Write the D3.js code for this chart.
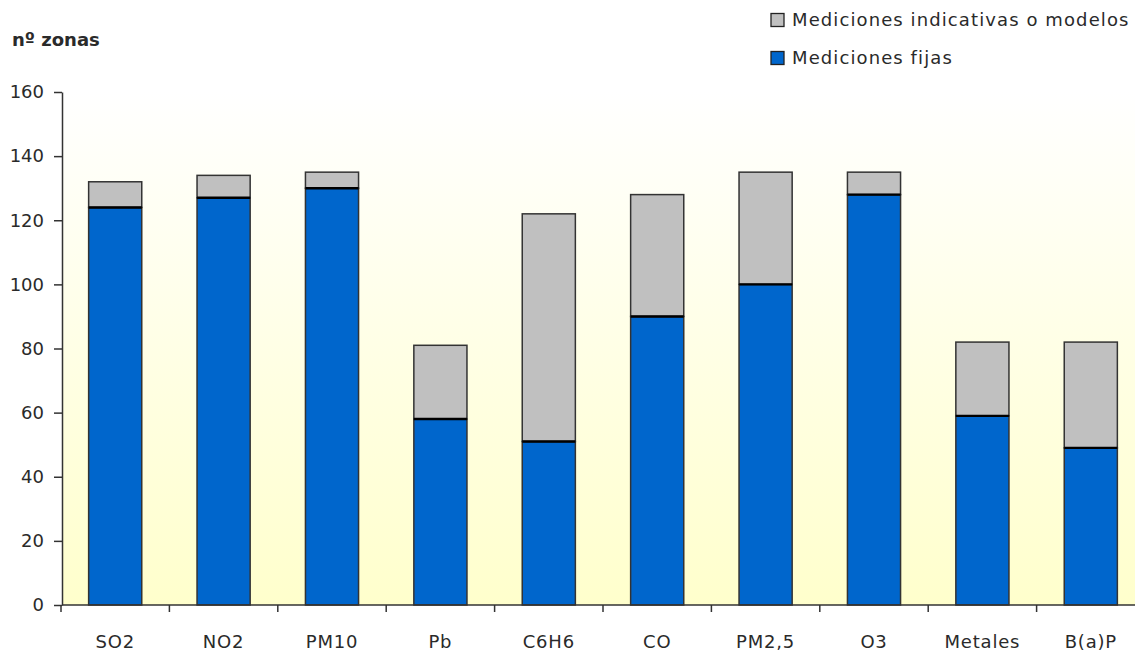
<!DOCTYPE html>
<html>
<head>
<meta charset="utf-8">
<script src="https://cdn.jsdelivr.net/npm/d3@7"></script>
<style>
  html, body { margin: 0; padding: 0; background: #ffffff; }
  svg { display: block; }
  text { font-family: "DejaVu Sans", Verdana, sans-serif; fill: #2a2a2a; }
</style>
</head>
<body>
<svg id="chart" width="1135" height="655"></svg>
<script>
const categories = ["SO2", "NO2", "PM10", "Pb", "C6H6", "CO", "PM2,5", "O3", "Metales", "B(a)P"];
const fijas = [124, 127, 130, 58, 51, 90, 100, 128, 59, 49];
const indicativas = [8, 7, 5, 23, 71, 38, 35, 7, 23, 33];
const yTicks = [0, 20, 40, 60, 80, 100, 120, 140, 160];
const seriesNames = ["Mediciones indicativas o modelos", "Mediciones fijas"];

const svg = d3.select("#chart");
const mLeft = 62, mRight = 1145, mTop = 92, mBottom = 605;

const x = d3.scaleBand().domain(categories).range([61, mRight]).paddingInner(0.51).paddingOuter(0.255);
const y = d3.scaleLinear().domain([0, 160]).range([mBottom, mTop]);

// background gradient
const defs = svg.append("defs");
const grad = defs.append("linearGradient").attr("id", "bg").attr("x1", 0).attr("y1", 0).attr("x2", 0).attr("y2", 1);
grad.append("stop").attr("offset", "0%").attr("stop-color", "#ffffff");
grad.append("stop").attr("offset", "100%").attr("stop-color", "#ffffcc");
svg.append("rect").attr("x", mLeft).attr("y", mTop).attr("width", mRight - mLeft).attr("height", mBottom - mTop).attr("fill", "url(#bg)");

const data = categories.map((c, i) => ({ cat: c, fijas: fijas[i], indicativas: indicativas[i] }));
const stack = d3.stack().keys(["fijas", "indicativas"])(data);
const colors = { fijas: "#0066cc", indicativas: "#c0c0c0" };

stack.forEach(layer => {
  svg.append("g").selectAll("rect").data(layer).join("rect")
    .attr("x", d => x(d.data.cat))
    .attr("y", d => y(d[1]))
    .attr("width", x.bandwidth())
    .attr("height", d => y(d[0]) - y(d[1]))
    .attr("fill", colors[layer.key])
    .attr("stroke", "#333")
    .attr("stroke-width", 1.5);
});
// black separator on top of fixed segment
svg.append("g").selectAll("line").data(stack[0]).join("line")
  .attr("x1", d => x(d.data.cat)).attr("x2", d => x(d.data.cat) + x.bandwidth())
  .attr("y1", d => y(d[1])).attr("y2", d => y(d[1]))
  .attr("stroke", "#000").attr("stroke-width", 2.4);

// Y axis
const yAxis = d3.axisLeft(y).tickValues(yTicks).tickSize(8).tickPadding(10).tickSizeOuter(0);
const gy = svg.append("g").attr("transform", `translate(${mLeft},0)`).call(yAxis);
gy.select(".domain").attr("stroke", "#333").attr("stroke-width", 1.5);
gy.selectAll(".tick line").attr("stroke", "#333").attr("stroke-width", 1.5);
gy.selectAll(".tick text").style("font-size", "18px").attr("fill", "#2a2a2a").style("font-family", "'DejaVu Sans', sans-serif");

// X axis line
svg.append("line").attr("x1", mLeft).attr("x2", mRight).attr("y1", mBottom).attr("y2", mBottom).attr("stroke", "#333").attr("stroke-width", 1.5);
// boundary ticks
const step = x.step();
const boundaries = categories.map(c => x(c) - step * x.paddingInner() / 2).concat([x(categories[categories.length - 1]) + x.bandwidth() + step * x.paddingInner() / 2]);
svg.append("g").selectAll("line").data(boundaries).join("line")
  .attr("x1", d => d).attr("x2", d => d).attr("y1", mBottom).attr("y2", mBottom + 7)
  .attr("stroke", "#333").attr("stroke-width", 1.5);
svg.append("g").selectAll("text").data(categories).join("text")
  .attr("x", d => x(d) + x.bandwidth() / 2).attr("y", 648)
  .attr("text-anchor", "middle").style("font-size", "18px").style("letter-spacing", "0.8px")
  .text(d => d);

// Y title
svg.append("text").attr("x", 12).attr("y", 46).style("font-size", "18px").style("font-weight", "bold").text("nº zonas");

// Legend
const legend = [{ name: seriesNames[0], color: colors.indicativas, y: 20 }, { name: seriesNames[1], color: colors.fijas, y: 58 }];
const lg = svg.append("g").selectAll("g").data(legend).join("g");
lg.append("rect").attr("x", 771).attr("y", d => d.y - 6.5).attr("width", 13).attr("height", 13)
  .attr("fill", d => d.color).attr("stroke", "#222").attr("stroke-width", 1.3);
lg.append("text").attr("x", 792).attr("y", d => d.y).attr("dy", "0.35em")
  .style("font-size", "18px").style("letter-spacing", "1.1px").text(d => d.name);
</script>
</body>
</html>
